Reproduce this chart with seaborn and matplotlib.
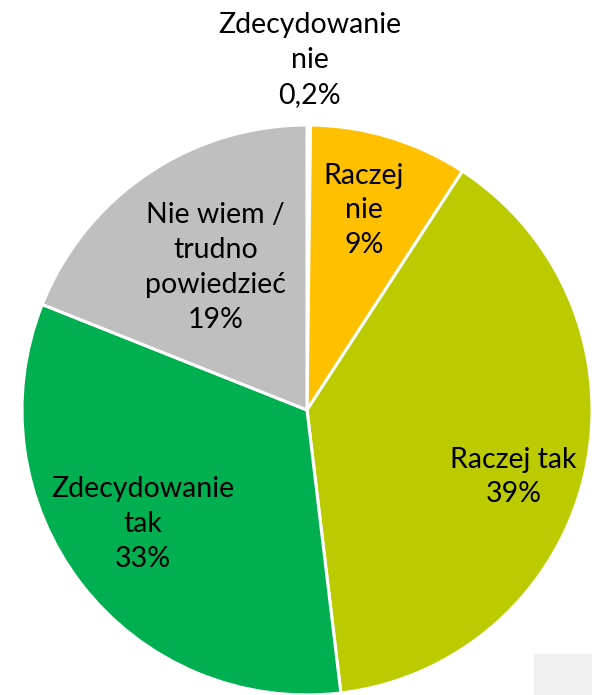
import matplotlib
matplotlib.use("Agg")
import matplotlib.pyplot as plt
import seaborn as sns
from matplotlib.patches import Rectangle

categories = ["Zdecydowanie\nnie", "Raczej\nnie", "Raczej tak", "Zdecydowanie\ntak", "Nie wiem /\ntrudno\npowiedzieć"]
values = [0.2, 9, 39, 33, 19]
pct_labels = ["0,2%", "9%", "39%", "33%", "19%"]
colors = ["#FFFFFF", "#FFC000", "#BBCB00", "#00B050", "#BFBFBF"]

# label positions (data units, pie radius = 1)
label_pos = [(0.01, 1.228), (0.20, 0.70), (0.725, -0.235), (-0.575, -0.40), (-0.32, 0.50)]

sns.set_theme(style="white")
plt.rcParams['font.family'] = ['Lato', 'DejaVu Sans']

fig = plt.figure(figsize=(5.92, 6.95), dpi=100)
ax = fig.add_axes([0, 0, 1, 1])
ax.pie(values, colors=colors, startangle=90, counterclock=False, radius=1,
       wedgeprops=dict(edgecolor="white", linewidth=2.2))
ax.set_xlim(-307 / 285, 285 / 285)
ax.set_ylim(-285 / 285, 410 / 285)
ax.set_aspect("equal")
ax.axis("off")

for (x, y), cat, pct in zip(label_pos, categories, pct_labels):
    ax.text(x, y, f"{cat}\n{pct}", ha="center", va="center", fontsize=20.5,
            linespacing=1.42, color="black")

fig.patches.append(Rectangle((534 / 592, 0), 58 / 592, 41 / 695, transform=fig.transFigure,
                             facecolor="#EFEFEF", edgecolor="none", zorder=0))

fig.savefig("out.png", dpi=100)
